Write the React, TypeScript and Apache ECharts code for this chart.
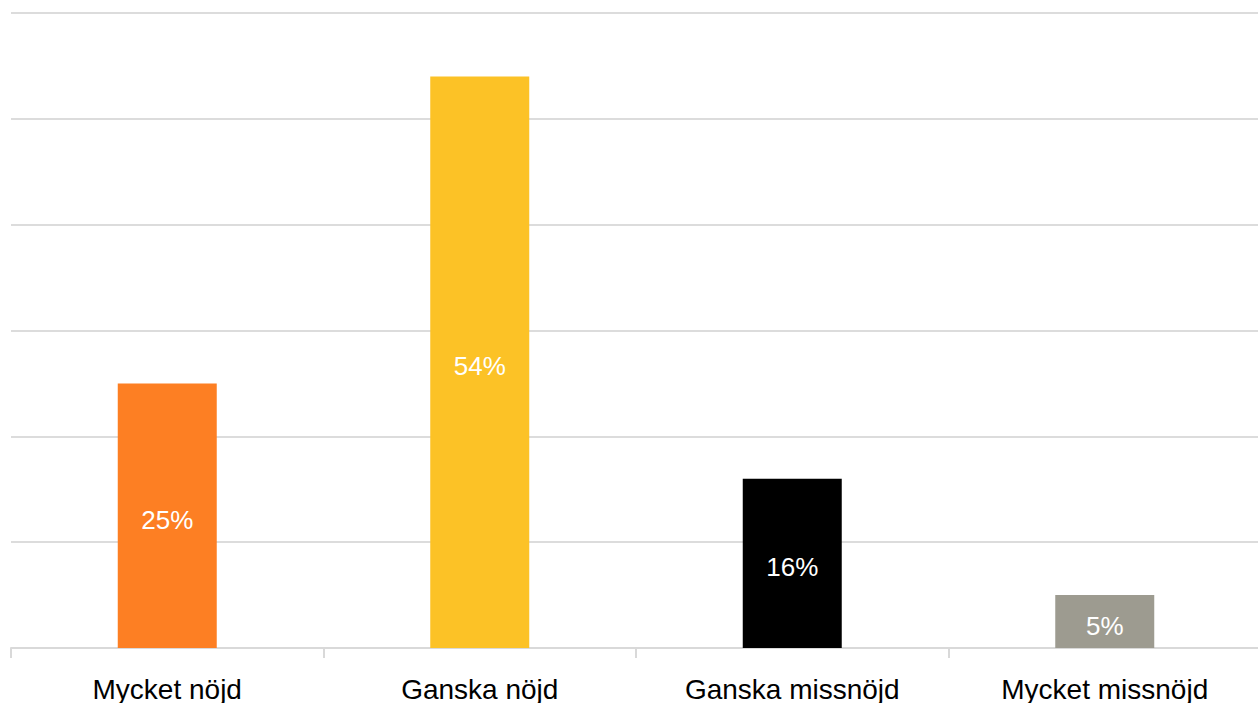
import React, { useEffect, useRef } from "react";
import * as echarts from "echarts";

const categories = ["Mycket nöjd", "Ganska nöjd", "Ganska missnöjd", "Mycket missnöjd"];
const values = [25, 54, 16, 5];
const barColors = ["#FD7F23", "#FCC226", "#000000", "#9D9B90"];

export default function App() {
  const ref = useRef<HTMLDivElement>(null);
  useEffect(() => {
    if (!ref.current) return;
    const chart = echarts.init(ref.current, undefined, { renderer: "svg" });
    chart.setOption({
      animation: false,
      grid: { left: 11, right: 9, top: 13, bottom: 54, containLabel: false },
      xAxis: {
        type: "category",
        data: categories,
        axisLine: { show: true, lineStyle: { color: "#d9d9d9", width: 2 } },
        axisTick: { show: true, length: 10, lineStyle: { color: "#d9d9d9", width: 2 } },
        axisLabel: {
          color: "#000",
          fontSize: 28,
          fontFamily: "Liberation Sans, Arial, sans-serif",
          margin: 27,
        },
      },
      yAxis: {
        type: "value",
        min: 0,
        max: 60,
        interval: 10,
        axisLabel: { show: false },
        axisLine: { show: false },
        axisTick: { show: false },
        splitLine: { lineStyle: { color: "#dcdcdc", width: 2 } },
      },
      series: [
        {
          type: "bar",
          barWidth: 99,
          data: values.map((v, i) => ({ value: v, itemStyle: { color: barColors[i] } })),
          label: {
            show: true,
            position: "inside",
            offset: [0, 4],
            color: "#fff",
            fontSize: 26,
            fontFamily: "Liberation Sans, Arial, sans-serif",
            formatter: (p: any) => p.value + "%",
          },
        },
      ],
    });
    return () => chart.dispose();
  }, []);
  return (
    <div style={{ position: "fixed", left: 0, top: 0, width: 1258, height: 703, overflow: "hidden", background: "#fff" }}>
      <div ref={ref} style={{ position: "absolute", left: 0, top: 0, width: 1270, height: 703 }} />
    </div>
  );
}
